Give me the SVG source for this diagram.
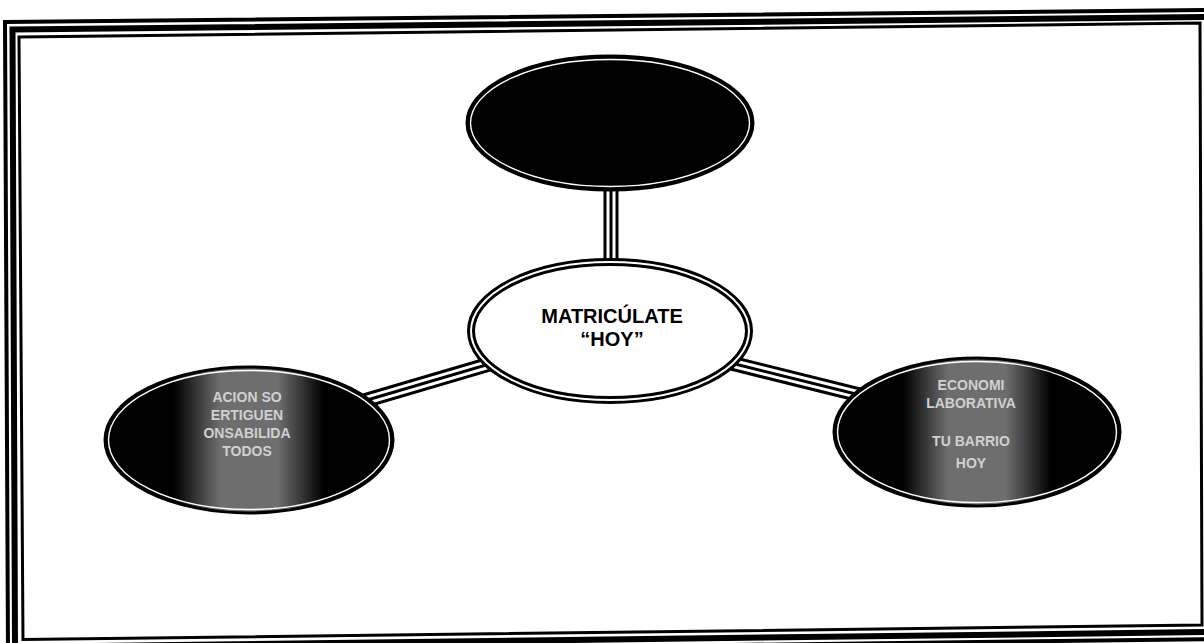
<svg xmlns="http://www.w3.org/2000/svg" width="1204" height="643" viewBox="0 0 1204 643">
  <defs>
    <linearGradient id="band" x1="0" y1="0" x2="1" y2="0">
      <stop offset="0" stop-color="#000"/>
      <stop offset="0.24" stop-color="#000"/>
      <stop offset="0.4" stop-color="#6e6e6e"/>
      <stop offset="0.6" stop-color="#6e6e6e"/>
      <stop offset="0.76" stop-color="#000"/>
      <stop offset="1" stop-color="#000"/>
    </linearGradient>
    <style>
      .frame { fill: none; stroke: #000; stroke-linejoin: miter; }
      .c-outer { stroke: #000; stroke-width: 15; stroke-linecap: butt; }
      .c-gap { stroke: #fff; stroke-width: 9; stroke-linecap: butt; }
      .c-mid { stroke: #000; stroke-width: 3; stroke-linecap: butt; }
      .dark { stroke: #000; stroke-width: 3; }
      .dark-line { fill: none; stroke: #fff; stroke-width: 1.4; }
      .center-edge { fill: #fff; stroke: #000; stroke-width: 8; }
      .center-line { fill: none; stroke: #fff; stroke-width: 2; }
      .main { font-family: "Liberation Sans", Arial, sans-serif; font-weight: bold; font-size: 20px; fill: #000; text-anchor: middle; }
      .faint { font-family: "Liberation Sans", Arial, sans-serif; font-weight: bold; font-size: 14px; fill: #d0d0d0; text-anchor: middle; }
    </style>
  </defs>
  <rect width="1204" height="643" fill="#fff"/>

  <g id="frame">
    <polygon class="frame" stroke-width="4" points="5,22 1214,10 1216,639 8,654"/>
    <polygon class="frame" stroke-width="6" points="12.5,29.5 1207,17 1209,632 15,647"/>
    <polygon class="frame" stroke-width="3" points="19,37 1200,23 1202,625 23,639.5"/>
  </g>

  <g id="connectors">
    <line class="c-outer" x1="611" y1="180" x2="611" y2="270"/>
    <line class="c-gap" x1="611" y1="180" x2="611" y2="270"/>
    <line class="c-mid" x1="611" y1="180" x2="611" y2="270"/>

    <line class="c-outer" x1="510" y1="358" x2="340" y2="408"/>
    <line class="c-gap" x1="510" y1="358" x2="340" y2="408"/>
    <line class="c-mid" x1="510" y1="358" x2="340" y2="408"/>

    <line class="c-outer" x1="715" y1="359" x2="880" y2="400"/>
    <line class="c-gap" x1="715" y1="359" x2="880" y2="400"/>
    <line class="c-mid" x1="715" y1="359" x2="880" y2="400"/>
  </g>

  <g id="node-top">
    <ellipse class="dark" cx="610" cy="123" rx="143" ry="67" fill="#000"/>
    <ellipse class="dark-line" cx="610" cy="123" rx="139.5" ry="63.5"/>
  </g>

  <g id="node-left">
    <ellipse class="dark" cx="249" cy="440" rx="144" ry="73" fill="url(#band)"/>
    <ellipse class="dark-line" cx="249" cy="440" rx="140.5" ry="69.5"/>
    <text class="faint" x="247" y="402">ACION SO</text>
    <text class="faint" x="247" y="420">ERTIGUEN</text>
    <text class="faint" x="247" y="438">ONSABILIDA</text>
    <text class="faint" x="247" y="456">TODOS</text>
  </g>

  <g id="node-right">
    <ellipse class="dark" cx="977" cy="432" rx="143" ry="74" fill="url(#band)"/>
    <ellipse class="dark-line" cx="977" cy="432" rx="139.5" ry="70.5"/>
    <text class="faint" x="971" y="390">ECONOMI</text>
    <text class="faint" x="971" y="408">LABORATIVA</text>
    <text class="faint" x="971" y="446">TU BARRIO</text>
    <text class="faint" x="971" y="468">HOY</text>
  </g>

  <g id="node-center">
    <ellipse class="center-edge" cx="610" cy="331" rx="139" ry="69"/>
    <ellipse class="center-line" cx="610" cy="331" rx="139" ry="69"/>
    <text class="main" x="612" y="323">MATRICÚLATE</text>
    <text class="main" x="612" y="346">“HOY”</text>
  </g>
</svg>
